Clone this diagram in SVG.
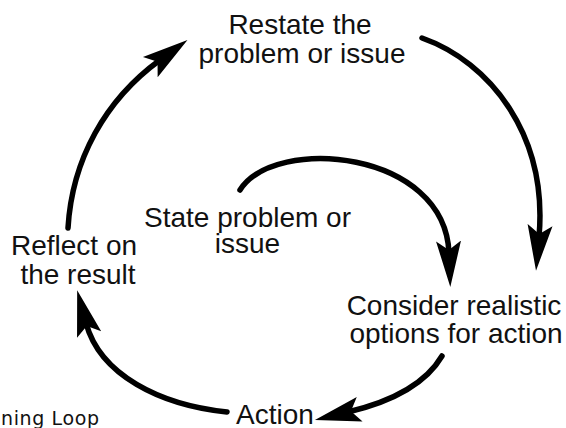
<svg xmlns="http://www.w3.org/2000/svg" width="566" height="428" viewBox="0 0 566 428">
  <style>
    .lbl { font-family: "Liberation Sans", Arial, sans-serif; font-size: 28px; fill: #111; text-anchor: middle; }
    .cap { font-family: "DejaVu Sans", sans-serif; font-size: 19px; fill: #111; }
    .arc { fill: none; stroke: #000; stroke-width: 5.5; stroke-linecap: round; marker-end: url(#ah); }
  </style>
  <defs>
    <marker id="ah" markerUnits="userSpaceOnUse" markerWidth="50" markerHeight="30" viewBox="0 -15 50 30" refX="12" refY="0" orient="auto">
      <path d="M46,0 L0,-12.5 L9,0 L0,12.5 Z" fill="#000"/>
    </marker>
  </defs>
  <rect width="566" height="428" fill="#ffffff"/>

  <g id="connectors">
    <path class="arc" d="M68,228 C72,160 105,100 160,60"/>
    <path class="arc" d="M422,38 C490,62 548,135 539,237"/>
    <path class="arc" d="M240,190 C275,135 445,150 449,253"/>
    <path class="arc" d="M442,356 C425,385 390,402 348,412"/>
    <path class="arc" d="M227,412 C160,405 100,375 86,323"/>
  </g>

  <g id="restate">
    <text class="lbl" x="300" y="34">Restate the</text>
    <text class="lbl" x="302" y="63">problem or issue</text>
  </g>
  <g id="state">
    <text class="lbl" x="247.5" y="227">State problem or</text>
    <text class="lbl" x="247.5" y="253">issue</text>
  </g>
  <g id="reflect">
    <text class="lbl" x="74" y="255">Reflect on</text>
    <text class="lbl" x="78" y="284">the result</text>
  </g>
  <g id="consider">
    <text class="lbl" x="454" y="315">Consider realistic</text>
    <text class="lbl" x="456" y="343">options for action</text>
  </g>
  <g id="action">
    <text class="lbl" x="275" y="424">Action</text>
  </g>
  <g id="caption">
    <text class="cap" x="1" y="425" textLength="98" lengthAdjust="spacing">ning Loop</text>
  </g>
</svg>
